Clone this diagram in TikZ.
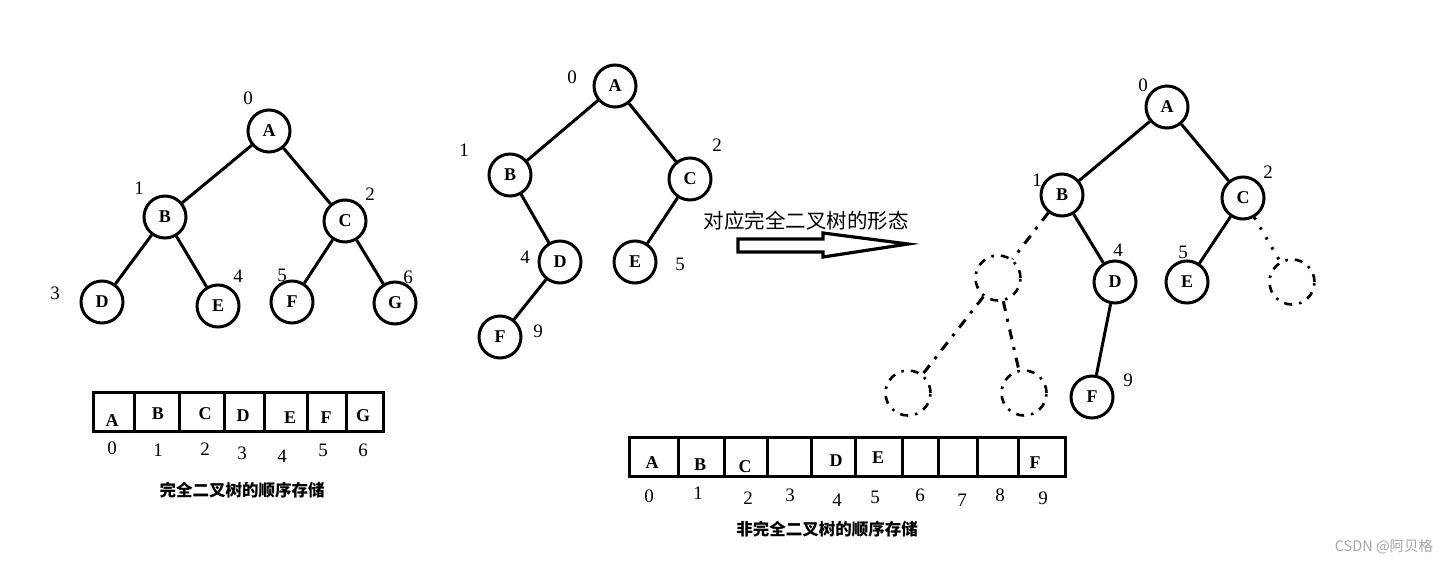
\documentclass[tikz,border=0pt]{standalone}
\usepackage{fontspec}
\newfontfamily\lserif{Liberation Serif}
\newfontfamily\cjkfont{Noto Sans CJK SC}
\begin{document}
\begin{tikzpicture}[x=1pt,y=-1pt,
  vtx/.style={circle,draw,line width=3pt,minimum size=42pt,inner sep=0pt,font={\lserif\bfseries\fontsize{18}{18}\selectfont}},
  ghost/.style={circle,draw,line width=2.6pt,minimum size=45pt,inner sep=0pt,dash pattern=on 8pt off 7pt on 2.5pt off 7pt},
  edge/.style={line width=3pt},
  dedge/.style={line width=3pt,dash pattern=on 10pt off 8pt on 3pt off 8pt},
  dotedge/.style={line width=3pt,dash pattern=on 2.5pt off 9pt},
  idx/.style={inner sep=0pt,font={\lserif\fontsize{19}{19}\selectfont}},
  cell/.style={inner sep=0pt,font={\lserif\bfseries\fontsize{18}{18}\selectfont}},
  arr/.style={line width=3.2pt},
  captxt/.style={inner sep=0pt,font={\cjkfont\bfseries\fontsize{16.5}{16.5}\selectfont}}
]
\useasboundingbox[fill=white] (0,0) rectangle (1450,565);

% ---------- left complete tree ----------
\node[vtx] (lA) at (269,131) {A};
\node[vtx] (lB) at (165,217) {B};
\node[vtx] (lC) at (345,221) {C};
\node[vtx] (lD) at (102,302) {D};
\node[vtx] (lE) at (218,306) {E};
\node[vtx] (lF) at (292,302) {F};
\node[vtx] (lG) at (395,303) {G};
\draw[edge] (lA) -- (lB);
\draw[edge] (lA) -- (lC);
\draw[edge] (lB) -- (lD);
\draw[edge] (lB) -- (lE);
\draw[edge] (lC) -- (lF);
\draw[edge] (lC) -- (lG);
\node[idx] (l0) at (248,98) {0};
\node[idx] (l1) at (139,188) {1};
\node[idx] (l2) at (370,194) {2};
\node[idx] (l3) at (55,293) {3};
\node[idx] (l4) at (238,276) {4};
\node[idx] (l5) at (282,275) {5};
\node[idx] (l6) at (408,277) {6};

% ---------- left array ----------
\draw[line width=3pt] (93,392) rectangle (383,431);
\foreach \x in {134,179,224,264,307,346}{\draw[line width=3pt] (\x,392) -- (\x,431);}
\node[cell] (la0) at (112,421) {A};
\node[cell] (la1) at (158,414) {B};
\node[cell] (la2) at (205,414) {C};
\node[cell] (la3) at (243,416) {D};
\node[cell] (la4) at (290,418) {E};
\node[cell] (la5) at (326,418) {F};
\node[cell] (la6) at (363,416) {G};
\node[idx] (li0) at (112,448) {0};
\node[idx] (li1) at (158,450) {1};
\node[idx] (li2) at (205,449) {2};
\node[idx] (li3) at (242,453) {3};
\node[idx] (li4) at (282,456) {4};
\node[idx] (li5) at (323,450) {5};
\node[idx] (li6) at (363,450) {6};
\node[captxt] (lcap) at (242,490) {完全二叉树的顺序存储};

% ---------- middle tree ----------
\node[vtx] (mA) at (615,86) {A};
\node[vtx] (mB) at (510,175) {B};
\node[vtx] (mC) at (690,179) {C};
\node[vtx] (mD) at (560,262) {D};
\node[vtx] (mE) at (635,262) {E};
\node[vtx] (mF) at (500,337) {F};
\draw[edge] (mA) -- (mB);
\draw[edge] (mA) -- (mC);
\draw[edge] (mB) -- (mD);
\draw[edge] (mC) -- (mE);
\draw[edge] (mD) -- (mF);
\node[idx] (m0) at (572,77) {0};
\node[idx] (m1) at (464,150) {1};
\node[idx] (m2) at (717,145) {2};
\node[idx] (m4) at (525,257) {4};
\node[idx] (m5) at (680,264) {5};
\node[idx] (m9) at (538,331) {9};

% ---------- arrow ----------
\node[inner sep=0pt,font={\cjkfont\fontsize{20.5}{20.5}\selectfont}] (atxt) at (806,221) {对应完全二叉树的形态};
\draw[arr,line join=miter] (738,239) -- (823,239) -- (823,233) -- (908,244) -- (823,257) -- (823,252) -- (738,252) -- cycle;

% ---------- right tree ----------
\node[vtx] (rA) at (1167,107) {A};
\node[vtx] (rB) at (1062,195) {B};
\node[vtx] (rC) at (1243,198) {C};
\node[vtx] (rD) at (1115,282) {D};
\node[vtx] (rE) at (1187,282) {E};
\node[vtx] (rF) at (1092,397) {F};
\node[ghost] (g1) at (998,278) {};
\node[ghost] (g2) at (908,393) {};
\node[ghost] (g3) at (1024,393) {};
\node[ghost] (g4) at (1292,282) {};
\draw[edge] (rA) -- (rB);
\draw[edge] (rA) -- (rC);
\draw[edge] (rB) -- (rD);
\draw[edge] (rC) -- (rE);
\draw[edge] (rD) -- (rF);
\draw[dedge] (rB) -- (g1);
\draw[dedge] (g1) -- (g2);
\draw[dedge] (g1) -- (g3);
\draw[dotedge] (rC) -- (g4);
\node[idx] (r0) at (1143,85) {0};
\node[idx] (r1) at (1037,180) {1};
\node[idx] (r2) at (1268,172) {2};
\node[idx] (r4) at (1118,250) {4};
\node[idx] (r5) at (1183,252) {5};
\node[idx] (r9) at (1128,380) {9};

% ---------- bottom array ----------
\draw[line width=3pt] (629,437) rectangle (1065,476);
\foreach \x in {678,724,767,811,855,902,938,977,1018}{\draw[line width=3pt] (\x,437) -- (\x,476);}
\node[cell] (ba0) at (652,463) {A};
\node[cell] (ba1) at (700,465) {B};
\node[cell] (ba2) at (745,467) {C};
\node[cell] (ba4) at (836,461) {D};
\node[cell] (ba5) at (878,458) {E};
\node[cell] (ba9) at (1035,463) {F};
\foreach \i/\x/\y in {0/649/496,1/698/493,2/748/498,3/790/495,4/837/500,5/875/497,6/920/495,7/962/500,8/1000/495,9/1043/498}{
  \node[idx] (bi\i) at (\x,\y) {\i};}
\node[captxt] (bcap) at (827,529) {非完全二叉树的顺序存储};

% ---------- watermark ----------
\node[inner sep=0pt,text=gray!70,font={\cjkfont\fontsize{14.5}{14.5}\selectfont}] (wm) at (1384,547) {CSDN @阿贝格};
\end{tikzpicture}
\end{document}
